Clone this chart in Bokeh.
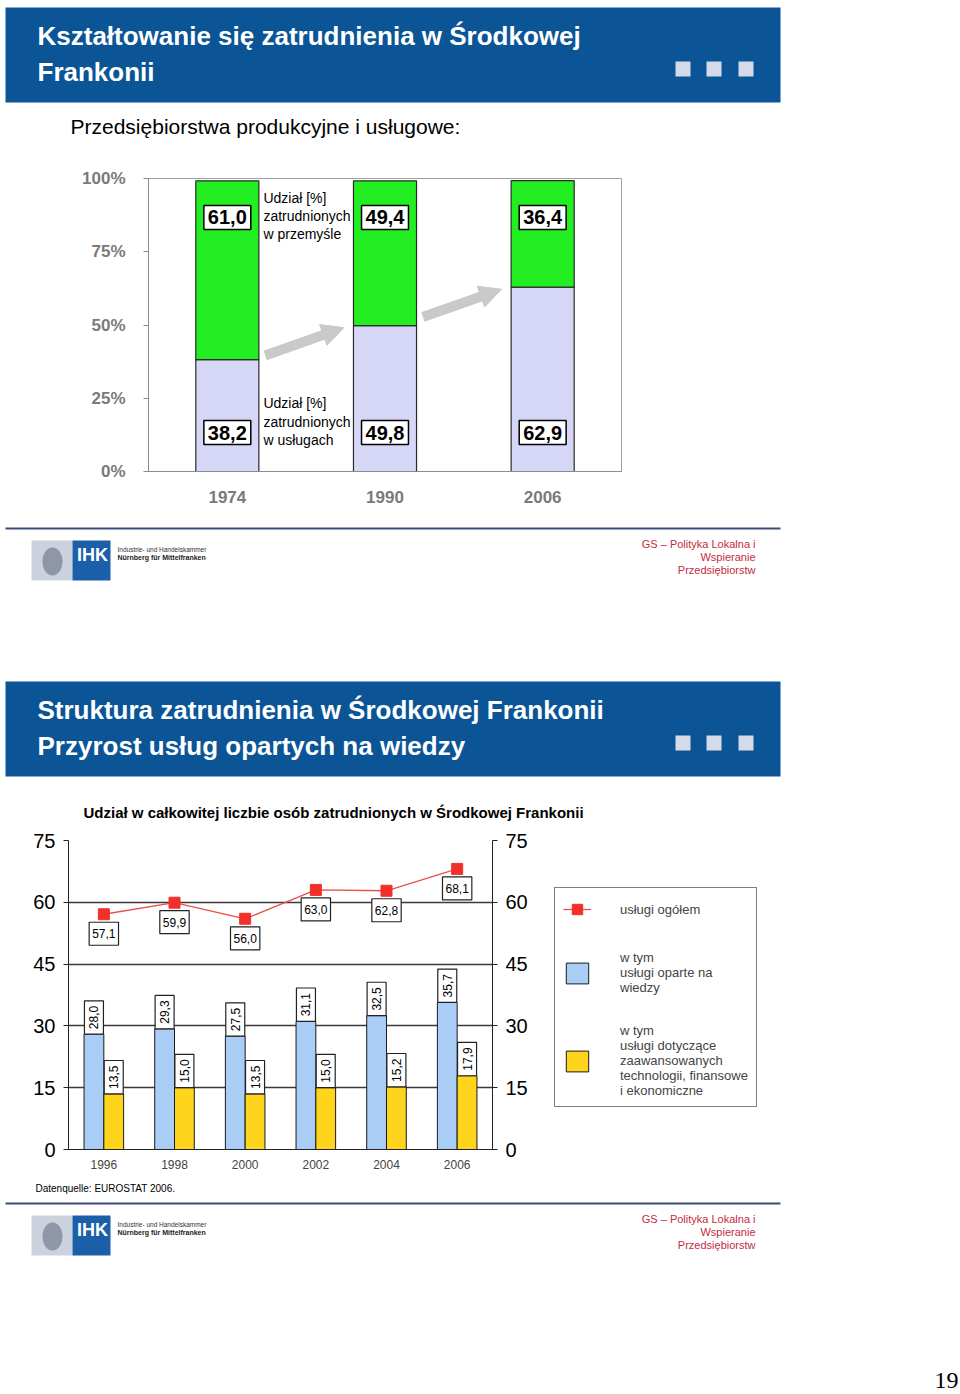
import numpy as np
from bokeh.plotting import figure
from bokeh.models import (Range1d, FactorRange, FixedTicker, LinearAxis, Legend, LegendItem,
                          Arrow, NormalHead, ColumnDataSource, PrintfTickFormatter)
from bokeh.layouts import row
from bokeh.transform import dodge
from bokeh.core.properties import value
from bokeh.embed import file_html
from bokeh.resources import INLINE

# ---------------- data: chart 1 (share of employment, %)
years1 = ["1974", "1990", "2006"]
industry = [61.0, 49.4, 36.4]
services = [38.2, 49.8, 62.9]
ticks1 = [0, 25, 50, 75, 100]

# ---------------- data: chart 2 (share of total employment, %)
years2 = ["1996", "1998", "2000", "2002", "2004", "2006"]
services_total = [57.1, 59.9, 56.0, 63.0, 62.8, 68.1]
knowledge = [28.0, 29.3, 27.5, 31.1, 32.5, 35.7]
hightech_fin = [13.5, 15.0, 13.5, 15.0, 15.2, 17.9]
ticks2 = [0, 15, 30, 45, 60, 75]

FONT = "Liberation Sans"
W = 960
BLUE = "#0B5596"
C_KNOW, C_TECH, C_LINE, C_MARK = "#A9CDF5", "#FFD41C", "#E8504A", "#F2302A"


def fmt(v):
    return f"{v:.1f}".replace(".", ",")


def canvas(h, w=W):
    c = figure(width=w, height=h, x_range=Range1d(0, w), y_range=Range1d(h, 0),
               x_axis_location=None, y_axis_location=None, toolbar_location=None,
               output_backend="svg", min_border=0)
    c.grid.visible = False
    c.outline_line_color = None
    return c


def txt(c, x, y, s, size, color="black", bold=False, align="left", baseline="middle",
        font=FONT, lh=1.2):
    c.text(x=[x], y=[y], text=[s], text_font=value(font), text_font_size=f"{size}px",
           text_font_style="bold" if bold else "normal", text_color=color,
           text_align=align, text_baseline=baseline, text_line_height=lh)


def banner(c, y0, lines):
    c.quad(left=[5], right=[780], top=[y0], bottom=[y0 + 95], fill_color=BLUE, line_color=None)
    txt(c, 37, y0 + 28, lines[0], 26, "white", bold=True)
    txt(c, 37, y0 + 64, lines[1], 26, "white", bold=True)
    c.rect(x=[682.5, 713.5, 745.5], y=[y0 + 61.5] * 3, width=15, height=15,
           fill_color="#D5D9E8", line_color=None)


def footer(c, y_line, y_logo):
    c.segment(x0=[5], x1=[780], y0=[y_line], y1=[y_line], line_color="#3C4A7C", line_width=2)
    c.quad(left=[31], right=[72], top=[y_logo], bottom=[y_logo + 40], fill_color="#CBD1DD", line_color=None)
    c.quad(left=[72], right=[110], top=[y_logo], bottom=[y_logo + 40], fill_color="#1B5FA8", line_color=None)
    c.ellipse(x=[52], y=[y_logo + 21], width=20, height=28, fill_color="#8E96A8", line_color=None)
    txt(c, 92, y_logo + 14, "IHK", 18, "white", bold=True, align="center")
    txt(c, 117, y_logo + 9, "Industrie- und Handelskammer", 6.5, "#333333")
    txt(c, 117, y_logo + 17, "Nürnberg für Mittelfranken", 7, "#222222", bold=True)
    for i, s in enumerate(["GS – Polityka Lokalna i", "Wspieranie", "Przedsiębiorstw"]):
        txt(c, 755, y_logo + 3 + 13 * i, s, 11, "#C42B40", align="right")


# ---------------- top decoration (page y 0..150)
top = canvas(150)
banner(top, 7, ["Kształtowanie się zatrudnienia w Środkowej", "Frankonii"])
txt(top, 70, 126, "Przedsiębiorstwa produkcyjne i usługowe:", 21)

# ---------------- chart 1 (page y 150..515)
src1 = ColumnDataSource(dict(
    year=years1, serv=services, ind=industry,
    top_ind=[s + i for s, i in zip(services, industry)],
    serv_lbl=[fmt(v) for v in services], ind_lbl=[fmt(v) for v in industry],
    lbl_hi=[86.7] * len(years1), lbl_lo=[13.3] * len(years1)))

p1 = figure(x_range=FactorRange(*years1), y_range=Range1d(0, 100), width=W, height=365,
            min_border_left=148, min_border_right=339, min_border_top=28, min_border_bottom=44,
            toolbar_location=None, output_backend="svg")
p1.vbar(x="year", bottom=0, top="serv", width=0.4, source=src1,
        fill_color="#D6D6F6", line_color="#2A2A2A", line_width=1.2)
p1.vbar(x="year", bottom="serv", top="top_ind", width=0.4, source=src1,
        fill_color="#22EE22", line_color="#2A2A2A", line_width=1.2)
for col, ycol in (("ind_lbl", "lbl_hi"), ("serv_lbl", "lbl_lo")):
    p1.text(x="year", y=ycol, text=col, source=src1, text_font=value(FONT),
            text_font_size="20px", text_font_style="bold", text_align="center",
            text_baseline="middle", background_fill_color="white",
            border_line_color="black", border_line_width=1.5, padding=(4, 5))
# arrows (services growth)
for i in range(len(years1) - 1):
    ye = services[i + 1] - 0.7
    p1.add_layout(Arrow(end=NormalHead(size=22, fill_color="#C9C9C9", line_color="#C9C9C9"),
                        x_start=i + 0.74, y_start=ye - 9.5, x_end=i + 1.24, y_end=ye,
                        line_color="#C9C9C9", line_width=10))
p1.text(x=[0.729, 0.729], y=[96.2, 26.0],
        text=["Udział [%]\nzatrudnionych\nw przemyśle", "Udział [%]\nzatrudnionych\nw usługach"],
        text_font=value(FONT), text_font_size="14px", text_baseline="top", text_line_height=1.15)

p1.grid.visible = False
p1.outline_line_color = "#A0A0A0"
p1.yaxis.ticker = FixedTicker(ticks=ticks1)
p1.yaxis.formatter = PrintfTickFormatter(format="%d%%")
p1.yaxis.minor_tick_line_color = None
p1.yaxis.major_tick_out = 5
p1.yaxis.major_tick_in = 0
p1.yaxis.major_label_standoff = 18
p1.xaxis.major_tick_out = 0
p1.xaxis.major_label_standoff = 19
for ax in (p1.xaxis, p1.yaxis):
    ax.axis_line_color = "#8C8C8C"
    ax.major_label_text_font = FONT
    ax.major_label_text_font_style = "bold"
    ax.major_label_text_font_size = "17px"
    ax.major_label_text_color = "#7A7A7A"
p1.yaxis.major_tick_line_color = "#8C8C8C"
p1.xaxis.major_tick_line_color = None

# ---------------- middle decoration (page y 515..825)
Y0 = 515
mid = canvas(310)
footer(mid, 528 - Y0, 540 - Y0)
banner(mid, 681 - Y0, ["Struktura zatrudnienia w Środkowej Frankonii", "Przyrost usług opartych na wiedzy"])
txt(mid, 83, 812 - Y0, "Udział w całkowitej liczbie osób zatrudnionych w Środkowej Frankonii", 15, bold=True)

# ---------------- chart 2 (page y 825..1180, x 0..548)
src2 = ColumnDataSource(dict(
    year=years2, total=services_total, know=knowledge, tech=hightech_fin,
    total_lbl=[fmt(v) for v in services_total], know_lbl=[fmt(v) for v in knowledge],
    tech_lbl=[fmt(v) for v in hightech_fin]))

p2 = figure(x_range=FactorRange(*years2), y_range=Range1d(0, 75), width=548, height=355,
            min_border_left=68, min_border_top=15, min_border_bottom=31, min_border_right=56,
            toolbar_location=None, output_backend="svg")
p2.vbar(x=dodge("year", -0.14, range=p2.x_range), top="know", width=0.28, source=src2,
        fill_color=C_KNOW, line_color="#1A1A1A", line_width=1)
p2.vbar(x=dodge("year", 0.14, range=p2.x_range), top="tech", width=0.28, source=src2,
        fill_color=C_TECH, line_color="#1A1A1A", line_width=1)
p2.line(x="year", y="total", source=src2, line_color=C_LINE, line_width=1.3)
p2.scatter(x="year", y="total", source=src2, marker="square", size=11,
           fill_color=C_MARK, line_color=C_MARK)
p2.text(x="year", y="total", text="total_lbl", source=src2, text_font=value(FONT),
        text_font_size="12px", text_align="center", text_baseline="top", y_offset=8,
        background_fill_color="white", border_line_color="#222222", border_line_width=1.2,
        padding=(3, 7))
for xoff, col, lbl in ((-0.14, "know", "know_lbl"), (0.14, "tech", "tech_lbl")):
    p2.text(x=dodge("year", xoff, range=p2.x_range), y=col, text=lbl, source=src2,
            text_font=value(FONT), text_font_size="12px", angle=np.pi / 2,
            text_align="left", text_baseline="middle",
            background_fill_color="white", border_line_color="#222222", border_line_width=1.2,
            padding=(5, 5))

p2.add_layout(LinearAxis(), "right")
p2.xgrid.visible = False
p2.ygrid.ticker = FixedTicker(ticks=ticks2)
p2.ygrid.grid_line_color = "#3A3A3A"
p2.ygrid.grid_line_width = 1.3
p2.outline_line_color = None
p2.yaxis.ticker = FixedTicker(ticks=ticks2)
p2.yaxis.minor_tick_line_color = None
p2.yaxis.major_tick_in = 0
p2.yaxis.major_tick_out = 5
p2.yaxis.major_label_standoff = 8
p2.yaxis.major_label_text_font = FONT
p2.yaxis.major_label_text_font_size = "20px"
p2.yaxis.major_label_text_color = "black"
p2.yaxis.axis_line_color = "#222222"
p2.yaxis.major_tick_line_color = "#222222"
p2.xaxis.major_tick_line_color = None
p2.xaxis.major_tick_out = 0
p2.xaxis.major_label_standoff = 10
p2.xaxis.major_label_text_font = FONT
p2.xaxis.major_label_text_font_size = "12px"
p2.xaxis.axis_line_color = "#222222"

# ---------------- legend panel for chart 2 (page x 548..960)
# same series renderers, hidden: only their legend swatches are shown
leg = figure(width=W - 548, height=355, x_range=FactorRange(*years2), y_range=Range1d(100, 101),
             x_axis_location=None, y_axis_location=None, toolbar_location=None,
             output_backend="svg", min_border_left=0, min_border_right=0,
             min_border_top=15, min_border_bottom=31)
leg.grid.visible = False
leg.outline_line_color = None
lg_line = leg.line(x="year", y="total", source=src2, line_color=C_LINE, line_width=1.3)
lg_mark = leg.scatter(x="year", y="total", source=src2, marker="square",
                      fill_color=C_MARK, line_color=C_MARK)
lg_know = leg.vbar(x="year", top="know", width=0.28, source=src2,
                   fill_color=C_KNOW, line_color="#1A1A1A", line_width=1)
lg_tech = leg.vbar(x="year", top="tech", width=0.28, source=src2,
                   fill_color=C_TECH, line_color="#1A1A1A", line_width=1)
for r in (lg_line, lg_mark, lg_know, lg_tech):
    r.visible = False
legend = Legend(items=[
    LegendItem(label="usługi ogółem", renderers=[lg_line, lg_mark]),
    LegendItem(label="w tym\nusługi oparte na\nwiedzy", renderers=[lg_know]),
    LegendItem(label="w tym\nusługi dotyczące\nzaawansowanych\ntechnologii, finansowe\ni ekonomiczne",
               renderers=[lg_tech]),
], location=(554 - 548, 1149 - 1107), orientation="vertical", border_line_color="black",
    border_line_width=1, padding=8, spacing=28, margin=0, glyph_width=28, glyph_height=26,
    label_standoff=29, label_width=128, label_text_font=FONT, label_text_font_size="13px",
    label_text_line_height=1.2, background_fill_alpha=1, inactive_fill_alpha=0)
leg.add_layout(legend)

# ---------------- bottom decoration (page y 1180..1393)
Y1 = 1180
bot = canvas(213)
txt(bot, 35, 1188 - Y1, "Datenquelle: EUROSTAT 2006.", 10)
footer(bot, 1203 - Y1, 1215 - Y1)
txt(bot, 958, 1380 - Y1, "19", 24, font="Liberation Serif", align="right", baseline="middle")

open("out.html", "w").write(file_html([top, p1, mid, row(p2, leg, spacing=0), bot], INLINE))
